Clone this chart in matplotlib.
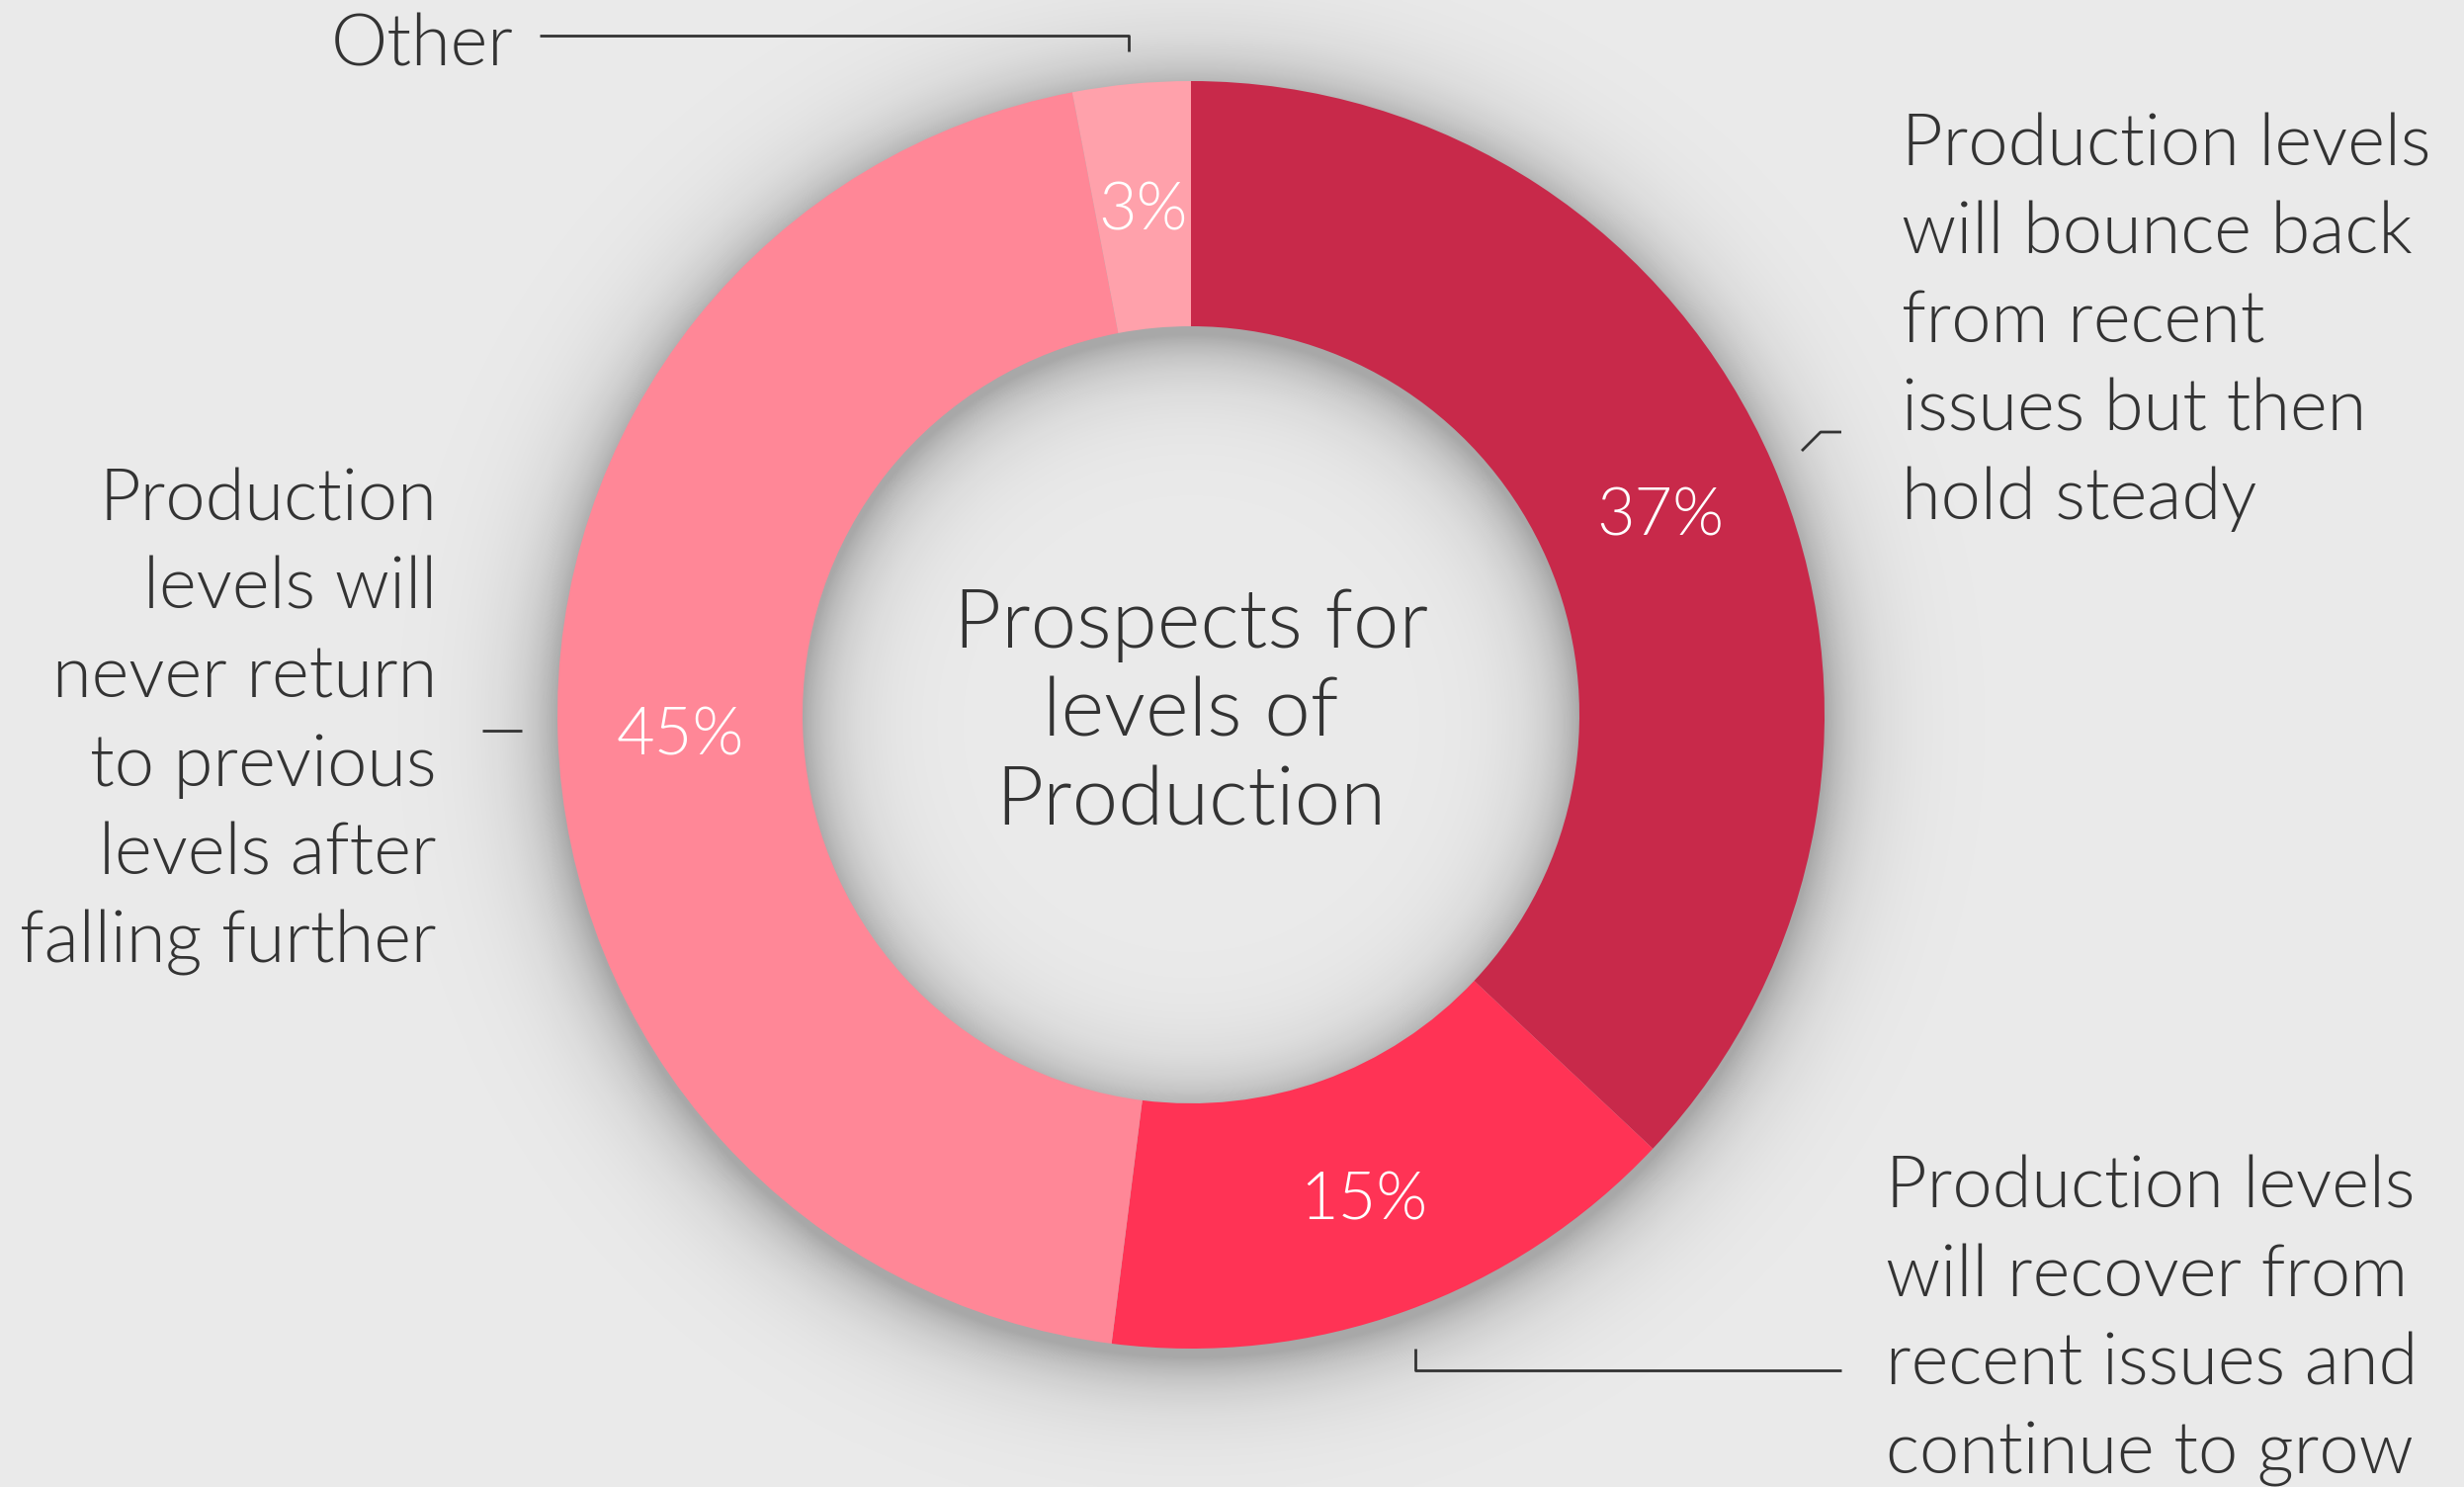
import numpy as np
import matplotlib.pyplot as plt

# datos
categorias = ['Production levels\nwill bounce back\nfrom recent\nissues but then\nhold steady',
              'Production levels\nwill recover from\nrecent issues and\ncontinue to grow',
              'Production\nlevels will\nnever return\nto previous\nlevels after\nfalling further',
              'Other']
valores = [37, 15, 45, 3]
colores = ['#C8294A', '#FF3355', '#FF8797', '#FFA1AB']
titulo = 'Prospects for\nlevels of\nProduction'

# lienzo en pixeles
W, H = 2493, 1504
fondo = '#EAEAEA'
texto = '#333333'
fuente = ['Lato', 'DejaVu Sans']

fig = plt.figure(figsize=(W/100, H/100), dpi=100, facecolor=fondo)
ax = fig.add_axes([0, 0, 1, 1])
ax.set_xlim(0, W)
ax.set_ylim(0, H)
ax.set_aspect('equal')
ax.axis('off')

def Y(py):
    return H - py

cx, cy = 1205, Y(723)
R, Rin = 641, 393

# sombra difusa alrededor del anillo
xs = np.arange(0, W, 2)
ys = np.arange(0, H, 2)
gx, gy = np.meshgrid(xs, ys)
r = np.hypot(gx - cx, gy - (cy - 10))
d = np.maximum(np.maximum(r - R, Rin - r), 0)
alpha = 0.28 * np.exp(-d / 38.0)
sombra = np.zeros(gx.shape + (4,))
sombra[..., 3] = alpha
ax.imshow(sombra, extent=(0, W, 0, H), origin='lower', zorder=0, interpolation='bilinear')

wedges, _, pcts = ax.pie(valores, colors=colores, startangle=90, counterclock=False,
                         center=(cx, cy), radius=R,
                         wedgeprops=dict(width=R - Rin, linewidth=0),
                         autopct='%d%%', pctdistance=(R + Rin) / 2 / R,
                         textprops=dict(color='white', fontsize=48, family=fuente, weight=300),
                         frame=True)
ax.set_xlim(0, W)
ax.set_ylim(0, H)
ax.axis('off')
for w in wedges:
    w.set_zorder(2)
for t in pcts:
    t.set_zorder(3)
    px, py = t.get_position()
    t.set_position((px, py - 6))

# titulo central
ax.text(cx, Y(722), titulo, ha='center', va='center', fontsize=60, color=texto,
        family=fuente, weight=300, linespacing=1.24, zorder=4)

# etiquetas
kw = dict(fontsize=52, color=texto, family=fuente, weight=300, linespacing=1.43, zorder=4)
ax.text(1924, Y(326), categorias[0], ha='left', va='center', **kw)
ax.text(1908, Y(1336), categorias[1], ha='left', va='center', **kw)
ax.text(442, Y(730), categorias[2], ha='right', va='center', multialignment='right', **kw)
ax.text(520, Y(46), categorias[3], ha='right', va='center', **kw)

# lineas guia
lkw = dict(color='#333333', linewidth=2, solid_capstyle='butt', zorder=4)
ax.plot([546, 1142, 1142], [Y(36), Y(36), Y(52)], **lkw)
ax.plot([1823, 1842, 1863], [Y(456), Y(437), Y(437)], **lkw)
ax.plot([1432, 1432, 1863], [Y(1364), Y(1386), Y(1386)], **lkw)
ax.plot([488, 528], [Y(739), Y(739)], **lkw)

fig.savefig('out.png', dpi=100, facecolor=fondo)
